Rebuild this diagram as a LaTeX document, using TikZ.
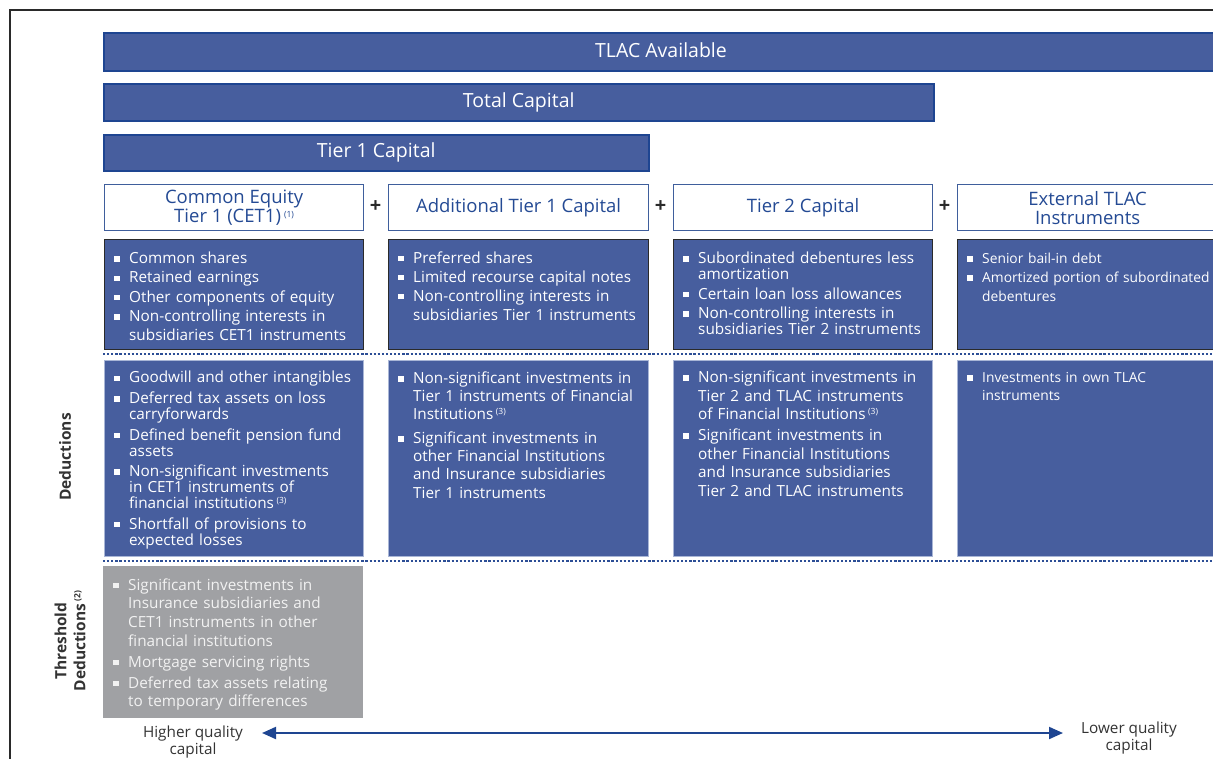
\documentclass[tikz,border=0pt]{standalone}
\usepackage{fontspec}
\setmainfont{Open Sans}
\usetikzlibrary{arrows.meta}
\definecolor{bfill}{HTML}{475E9E}
\definecolor{bdark}{HTML}{1E4591}
\definecolor{htext}{HTML}{244A94}
\definecolor{hborder}{HTML}{3F5E9C}
\definecolor{gfill}{HTML}{A0A1A4}
\definecolor{gtext}{HTML}{F2F2F2}
\definecolor{lborder}{HTML}{A9B6D6}
\definecolor{framec}{HTML}{2A2A2A}
\definecolor{dotc}{HTML}{2C4E96}
\definecolor{labc}{HTML}{333333}
\newcommand{\bitem}[1]{\par\noindent\hangindent=15pt\hangafter=1\makebox[15pt][l]{\raisebox{1.8pt}{\rule{5.5pt}{5.5pt}}}#1\par}
\newcommand{\nl}{\hfil\break}
\newcommand{\fn}[1]{\,\raisebox{5pt}{\fontsize{8.5}{9}\selectfont(#1)}}
\tikzset{
  bar/.style={draw=bdark, line width=1.5pt, fill=bfill, text=white, anchor=north west, inner sep=0pt,
    font=\fontsize{19.5}{21}\selectfont},
  headbox/.style={draw=hborder, line width=1.2pt, fill=white, text=htext, anchor=north west, inner sep=0pt,
    align=center, font=\fontsize{18.5}{19}\selectfont},
  topbox/.style={draw=framec, line width=1.2pt, fill=bfill, anchor=north west, inner sep=0pt},
  dedbox/.style={draw=lborder, line width=1.2pt, fill=bfill, anchor=north west, inner sep=0pt},
  graybox/.style={draw=none, fill=gfill, anchor=north west, inner sep=0pt},
  ctext/.style 2 args={anchor=north west, inner sep=0pt, text=white, text width=250pt,
    font=\fontsize{15.3}{#1}\selectfont, execute at begin node={\raggedright\setlength{\parskip}{#2}}, xshift=10pt},
  plus/.style={font=\fontsize{20}{20}\selectfont\bfseries, text=framec},
  dotline/.style={draw=dotc, line width=2.6pt, dash pattern=on 2.2pt off 1.9pt},
  sidelab/.style={rotate=90, align=center, text=labc, font=\fontsize{15.5}{19}\selectfont\bfseries},
  qual/.style={align=center, text=labc, font=\fontsize{15.3}{17}\selectfont},
}
\begin{document}
\begin{tikzpicture}[x=1pt,y=-1pt]
\useasboundingbox (0,0) rectangle (1213,758);
\begin{scope}
\clip (0,0) rectangle (1213,758);
% frame
\coordinate (fb) at (10,770);
\coordinate (ftl) at (10,10);
\coordinate (fr) at (1225,10);
\draw[framec, line width=1.8pt] (fb) -- (ftl) -- (fr);
% bars
\node[bar, minimum width=1117pt, minimum height=38pt] (tlac) at (103,32) {};
\node[text=white, font=\fontsize{19.5}{21}\selectfont] (tlact) at (661,50) {TLAC Available};
\node[bar, minimum width=830pt, minimum height=37pt] (total) at (103,83) {Total Capital};
\node[bar, minimum width=545pt, minimum height=36pt] (tier1) at (103,134) {Tier 1 Capital};
% headers
\node[headbox, minimum width=259pt, minimum height=46pt] (h1) at (104,184) {Common Equity\\Tier 1 (CET1)\fn{1}};
\node[headbox, minimum width=260pt, minimum height=46pt] (h2) at (388,184) {Additional Tier 1 Capital};
\node[headbox, minimum width=259pt, minimum height=46pt] (h3) at (673,184) {Tier 2 Capital};
\node[headbox, minimum width=260pt, minimum height=46pt] (h4) at (957,184) {External TLAC\\Instruments};
\node[plus] (p1) at (375.5,207) {+};
\node[plus] (p2) at (660.5,207) {+};
\node[plus] (p3) at (944.5,207) {+};
% row 1
\node[topbox, minimum width=259pt, minimum height=110pt] (r1a) at (104,239) {};
\node[topbox, minimum width=260pt, minimum height=110pt] (r1b) at (388,239) {};
\node[topbox, minimum width=259pt, minimum height=110pt] (r1c) at (673,239) {};
\node[topbox, minimum width=260pt, minimum height=110pt] (r1d) at (957,239) {};
\node[ctext={19.3pt}{0pt}, yshift=-5pt] (t1a) at (r1a.north west) {%
\bitem{Common shares}\bitem{Retained earnings}\bitem{Other components of equity}%
\bitem{Non-controlling interests in\nl subsidiaries CET1 instruments}};
\node[ctext={19pt}{0pt}, yshift=-5pt] (t1b) at (r1b.north west) {%
\bitem{Preferred shares}\bitem{Limited recourse capital notes}%
\bitem{Non-controlling interests in\nl subsidiaries Tier 1 instruments}};
\node[ctext={16pt}{3.5pt}, yshift=-5pt] (t1c) at (r1c.north west) {%
\bitem{Subordinated debentures less\nl amortization}\bitem{Certain loan loss allowances}%
\bitem{Non-controlling interests in\nl subsidiaries Tier 2 instruments}};
\node[ctext={19pt}{0pt}, font=\fontsize{13.8}{19}\selectfont, yshift=-5.5pt] (t1d) at (r1d.north west) {%
\bitem{Senior bail-in debt}\bitem{Amortized portion of subordinated\nl debentures}};
% dotted 1
\coordinate (d1l) at (103,354);
\coordinate (d1r) at (1215,354);
\draw[dotline] (d1l) -- (d1r);
% row 2
\node[dedbox, minimum width=259pt, minimum height=196pt] (r2a) at (104,360) {};
\node[dedbox, minimum width=260pt, minimum height=196pt] (r2b) at (388,360) {};
\node[dedbox, minimum width=259pt, minimum height=196pt] (r2c) at (673,360) {};
\node[dedbox, minimum width=260pt, minimum height=196pt] (r2d) at (957,360) {};
\node[ctext={16pt}{4.6pt}, yshift=-2pt] (t2a) at (r2a.north west) {%
\bitem{Goodwill and other intangibles}\bitem{Deferred tax assets on loss\nl carryforwards}%
\bitem{Defined benefit pension fund\nl assets}\bitem{Non-significant investments\nl in CET1 instruments of\nl financial institutions\fn{3}}%
\bitem{Shortfall of provisions to\nl expected losses}};
\node[ctext={18.2pt}{5.5pt}, yshift=0.5pt] (t2b) at (r2b.north west) {%
\bitem{Non-significant investments in\nl Tier 1 instruments of Financial\nl Institutions\fn{3}}%
\bitem{Significant investments in\nl other Financial Institutions\nl and Insurance subsidiaries\nl Tier 1 instruments}};
\node[ctext={18.5pt}{2.5pt}, yshift=-1.5pt] (t2c) at (r2c.north west) {%
\bitem{Non-significant investments in\nl Tier 2 and TLAC instruments\nl of Financial Institutions\fn{3}}%
\bitem{Significant investments in\nl other Financial Institutions\nl and Insurance subsidiaries\nl Tier 2 and TLAC instruments}};
\node[ctext={18pt}{0pt}, font=\fontsize{13.8}{18}\selectfont, yshift=-4.5pt] (t2d) at (r2d.north west) {%
\bitem{Investments in own TLAC\nl instruments}};
% dotted 2
\coordinate (d2l) at (103,561);
\coordinate (d2r) at (1215,561);
\draw[dotline] (d2l) -- (d2r);
% threshold
\node[graybox, minimum width=260pt, minimum height=152pt] (r3a) at (103,566) {};
\node[ctext={18.8pt}{2pt}, text=gtext, yshift=-3pt] (t3a) at (r3a.north west) {%
\bitem{Significant investments in\nl Insurance subsidiaries and\nl CET1 instruments in other\nl financial institutions}%
\bitem{Mortgage servicing rights}\bitem{Deferred tax assets relating\nl to temporary differences}};
% side labels
\node[sidelab] (ldeds) at (65,457) {Deductions};
\node[sidelab] (lthr) at (70,641) {Threshold\\Deductions\fn{2}};
% quality arrow
\node[qual] (hq) at (193,742) {Higher quality\\capital};
\node[qual] (lq) at (1129,738) {Lower quality\\capital};
\coordinate (al) at (262,733);
\coordinate (ar) at (1063,733);
\draw[bdark, line width=2pt, {Triangle[length=14pt,width=12pt]}-{Triangle[length=14pt,width=12pt]}] (al) -- (ar);
\end{scope}
\end{tikzpicture}
\end{document}
